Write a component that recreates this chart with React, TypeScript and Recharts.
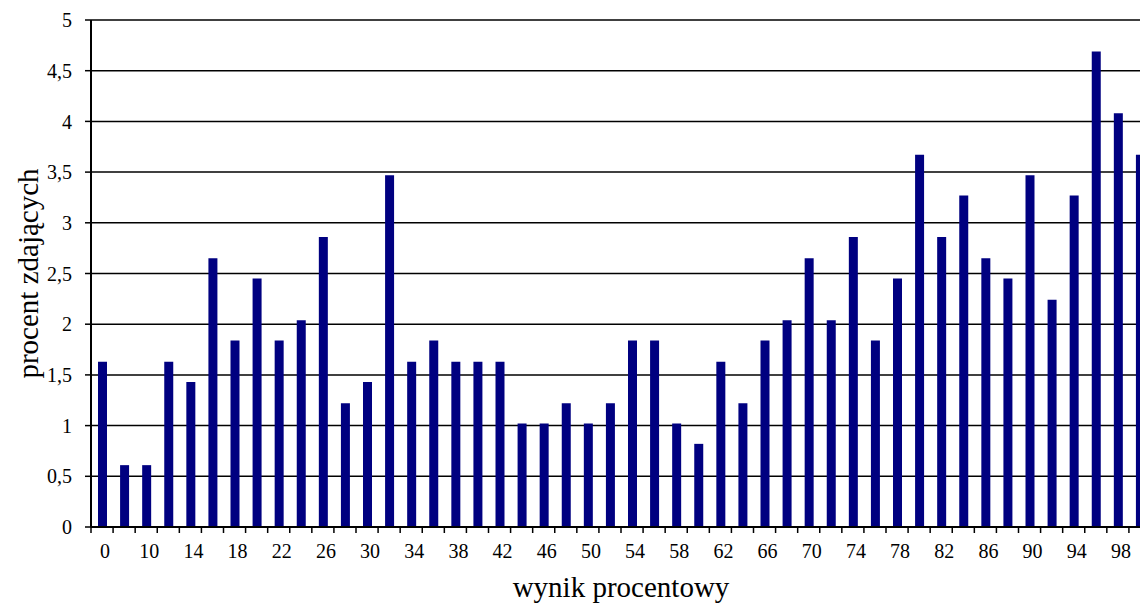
import React from 'react';
import { BarChart, Bar, XAxis, YAxis, CartesianGrid, Label } from 'recharts';

const categories = [
  '0', '8', '10', '12', '14', '16', '18', '20', '22', '24', '26', '28', '30', '32', '34', '36',
  '38', '40', '42', '44', '46', '48', '50', '52', '54', '56', '58', '60', '62', '64', '66', '68',
  '70', '72', '74', '76', '78', '80', '82', '84', '86', '88', '90', '92', '94', '96', '98', '100',
];

const values = [
  1.63, 0.61, 0.61, 1.63, 1.43, 2.65, 1.84, 2.45, 1.84, 2.04, 2.86, 1.22, 1.43, 3.47, 1.63, 1.84,
  1.63, 1.63, 1.63, 1.02, 1.02, 1.22, 1.02, 1.22, 1.84, 1.84, 1.02, 0.82, 1.63, 1.22, 1.84, 2.04,
  2.65, 2.04, 2.86, 1.84, 2.45, 3.67, 2.86, 3.27, 2.65, 2.45, 3.47, 2.24, 3.27, 4.69, 4.08, 3.67,
];

const yTicks = [0, 0.5, 1, 1.5, 2, 2.5, 3, 3.5, 4, 4.5, 5];

const xTitle = 'wynik procentowy';
const yTitle = 'procent zdających';

const data = categories.map((c, i) => ({ wynik: c, procent: values[i] }));

const FONT = "'Liberation Serif', 'Times New Roman', Times, serif";
const X_TICK_SIZE = 6;
const X_TICK_MARGIN = 11;

function XTick(props: any) {
  const { x, y, payload, index } = props;
  const half = payload && typeof payload.offset === 'number' ? payload.offset : 11.04;
  const axisY = y - X_TICK_SIZE - X_TICK_MARGIN;
  return (
    <g>
      <line x1={x - half} x2={x - half} y1={axisY} y2={axisY + X_TICK_SIZE} stroke="#000" strokeWidth={1.5} />
      {index % 2 === 0 && (
        <text x={x + 3} y={y} dy="0.71em" textAnchor="middle" style={{ fontSize: 20, fontFamily: FONT }} fill="#000">
          {payload.value}
        </text>
      )}
    </g>
  );
}

export default function App() {
  return (
    <div style={{ position: 'absolute', left: 0, top: 0, width: 1140, height: 606, overflow: 'hidden', background: '#fff', fontFamily: FONT }}>
      <BarChart
        width={1160}
        height={606}
        data={data}
        margin={{ top: 20, right: 9, bottom: 0, left: 0 }}
        style={{ fontFamily: FONT }}
      >
        <CartesianGrid horizontal vertical={false} stroke="#000" strokeWidth={1.5} />
        <XAxis
          dataKey="wynik"
          interval={0}
          height={79}
          tickSize={X_TICK_SIZE}
          tickMargin={X_TICK_MARGIN}
          tickLine={false}
          tick={<XTick />}
          axisLine={{ stroke: '#000', strokeWidth: 2 }}
        >
          <Label value={xTitle} position="insideBottom" offset={9} style={{ fontSize: 29, fontFamily: FONT }} fill="#000" />
        </XAxis>
        <YAxis
          width={91}
          domain={[0, 5]}
          ticks={yTicks}
          interval={0}
          tickSize={6}
          tickMargin={13}
          tickFormatter={(v: number) => String(v).replace('.', ',')}
          tick={{ fontSize: 20, fill: '#000', style: { fontFamily: FONT } }}
          tickLine={{ stroke: '#000', strokeWidth: 1.5 }}
          axisLine={{ stroke: '#000', strokeWidth: 2 }}
        >
          <Label value={yTitle} position="center" angle={-90} dx={-18} style={{ fontSize: 29, fontFamily: FONT }} fill="#000" />
        </YAxis>
        <Bar dataKey="procent" fill="#000080" barSize={9} isAnimationActive={false} />
      </BarChart>
    </div>
  );
}
